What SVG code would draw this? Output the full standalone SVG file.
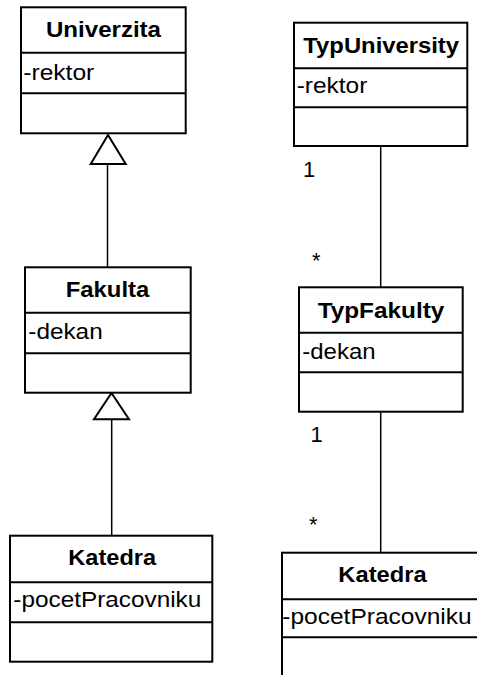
<svg xmlns="http://www.w3.org/2000/svg" width="477" height="675" viewBox="0 0 477 675">
<style>
.box{fill:#fff;stroke:#000;stroke-width:2}
.div{stroke:#000;stroke-width:2}
.t{font-family:"Liberation Sans",Arial,sans-serif;font-size:22px;font-weight:bold;text-anchor:middle;fill:#000}
.a{font-family:"Liberation Sans",Arial,sans-serif;font-size:22px;fill:#000}
.ln{stroke:#000;stroke-width:1.5;fill:none}
.tri{fill:#fff;stroke:#000;stroke-width:2}
</style>
<rect width="477" height="675" fill="#fff"/>
<g id="connectors">
<line class="ln" x1="107.5" y1="164" x2="107.5" y2="267"/>
<polygon class="tri" points="108,135 90.7,164 125.7,164"/>
<line class="ln" x1="111.7" y1="419" x2="111.7" y2="536"/>
<polygon class="tri" points="111.5,393 94,419.3 129,419.3"/>
<line class="ln" x1="380.7" y1="146" x2="380.7" y2="287"/>
<line class="ln" x1="380.7" y1="412" x2="380.7" y2="553"/>
<text class="a" x="303" y="176.5">1</text>
<text class="a" x="312" y="268">*</text>
<text class="a" x="310.5" y="441.7">1</text>
<text class="a" x="309" y="532">*</text>
</g>
<g id="univerzita">
<rect class="box" x="21" y="7.3" width="164.7" height="126"/>
<line class="div" x1="21" y1="52.7" x2="185.7" y2="52.7"/>
<line class="div" x1="21" y1="93.3" x2="185.7" y2="93.3"/>
<text class="t" x="103.5" y="36.7" textLength="115" lengthAdjust="spacingAndGlyphs">Univerzita</text>
<text class="a" x="23.3" y="80" textLength="71" lengthAdjust="spacingAndGlyphs">-rektor</text>
</g>
<g id="fakulta">
<rect class="box" x="25" y="267.3" width="165.7" height="125.4"/>
<line class="div" x1="25" y1="312.7" x2="190.7" y2="312.7"/>
<line class="div" x1="25" y1="353.3" x2="190.7" y2="353.3"/>
<text class="t" x="107.5" y="296.7" textLength="83.6" lengthAdjust="spacingAndGlyphs">Fakulta</text>
<text class="a" x="28.3" y="339.3" textLength="74.4" lengthAdjust="spacingAndGlyphs">-dekan</text>
</g>
<g id="katedra1">
<rect class="box" x="10" y="535.7" width="202.3" height="126"/>
<line class="div" x1="10" y1="582.3" x2="212.3" y2="582.3"/>
<line class="div" x1="10" y1="622.3" x2="212.3" y2="622.3"/>
<text class="t" x="112.2" y="565" textLength="87.7" lengthAdjust="spacingAndGlyphs">Katedra</text>
<text class="a" x="13.3" y="607.3" textLength="188" lengthAdjust="spacingAndGlyphs">-pocetPracovniku</text>
</g>
<g id="typuniversity">
<rect class="box" x="294" y="22.7" width="173.3" height="123.3"/>
<line class="div" x1="294" y1="68.3" x2="467.3" y2="68.3"/>
<line class="div" x1="294" y1="107.3" x2="467.3" y2="107.3"/>
<text class="t" x="381.2" y="53.3" textLength="155.7" lengthAdjust="spacingAndGlyphs">TypUniversity</text>
<text class="a" x="296.7" y="93.3" textLength="70.6" lengthAdjust="spacingAndGlyphs">-rektor</text>
</g>
<g id="typfakulty">
<rect class="box" x="299" y="287.3" width="163.7" height="124.4"/>
<line class="div" x1="299" y1="332.7" x2="462.7" y2="332.7"/>
<line class="div" x1="299" y1="372.3" x2="462.7" y2="372.3"/>
<text class="t" x="381" y="318.3" textLength="126.7" lengthAdjust="spacingAndGlyphs">TypFakulty</text>
<text class="a" x="302.3" y="359.3" textLength="73.3" lengthAdjust="spacingAndGlyphs">-dekan</text>
</g>
<g id="katedra2">
<rect class="box" x="282" y="552.7" width="200" height="126"/>
<line class="div" x1="282" y1="599.3" x2="482" y2="599.3"/>
<line class="div" x1="282" y1="637.3" x2="482" y2="637.3"/>
<text class="t" x="382.5" y="582" textLength="88.3" lengthAdjust="spacingAndGlyphs">Katedra</text>
<text class="a" x="282.3" y="624" textLength="189.4" lengthAdjust="spacingAndGlyphs">-pocetPracovniku</text>
</g>
</svg>
